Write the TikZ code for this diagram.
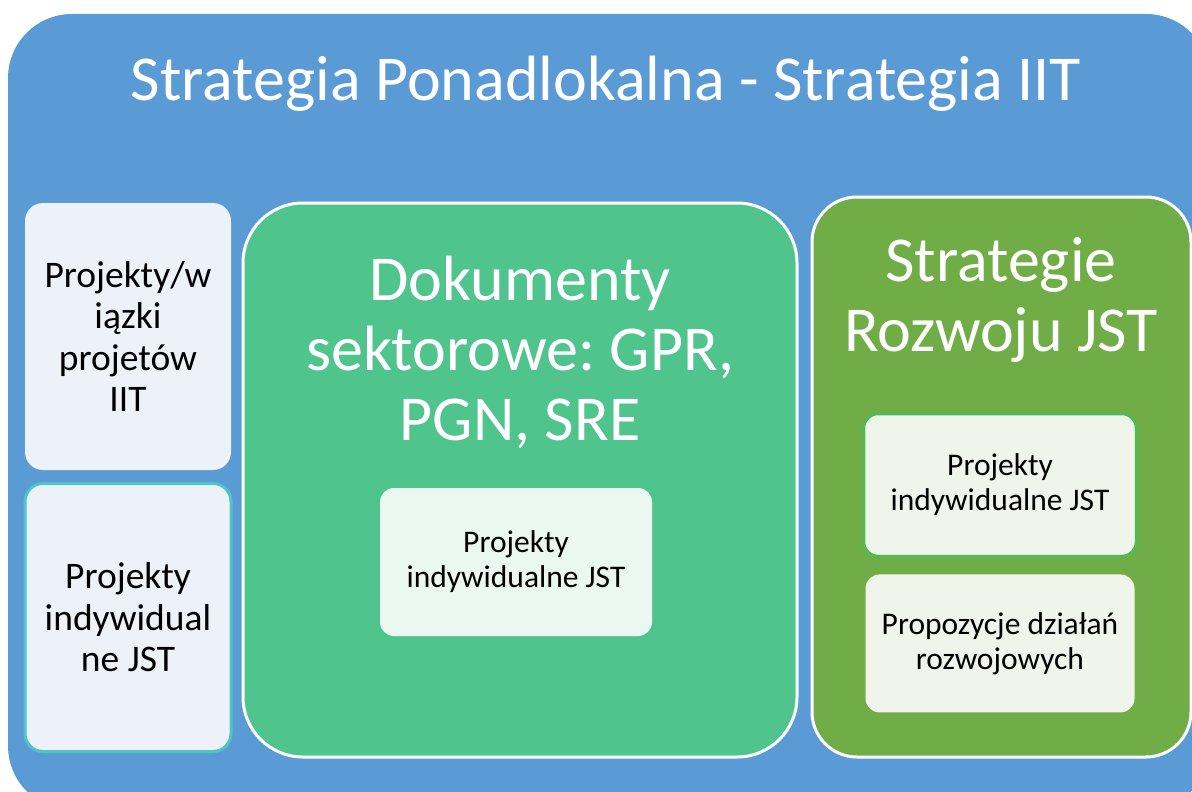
\documentclass[tikz,border=0pt]{standalone}
\usepackage{fontspec}
\setmainfont{Carlito}
\usepackage{tikz}
\usetikzlibrary{positioning}

\definecolor{outerblue}{HTML}{5B9BD5}
\definecolor{sectgreen}{HTML}{50C48D}
\definecolor{jstgreen}{HTML}{70AD47}
\definecolor{paleblue}{HTML}{EDF2F9}
\definecolor{palemint}{HTML}{EBF7F1}
\definecolor{palegreen}{HTML}{EFF5EA}
\definecolor{tealline}{HTML}{4CC6C6}
\definecolor{greenline}{HTML}{4CBD55}

\begin{document}
\frenchspacing
\begin{tikzpicture}
  [
    x = 1pt, y = -1pt,
    panel/.style = {rectangle, draw = white, line width = 3pt, inner sep = 0pt},
    heading/.style = {text = white, align = center, inner sep = 0pt,
                      font = \fontsize{64}{70}\selectfont},
    sidebox/.style = {rectangle, rounded corners = 18pt, fill = paleblue,
                      minimum width = 206pt, align = center, inner sep = 0pt,
                      font = \fontsize{37.5}{41.5}\selectfont},
    minibox/.style = {rectangle, rounded corners = 14pt, align = center,
                      inner sep = 0pt, font = \fontsize{31.5}{35}\selectfont},
  ]

  \useasboundingbox (0,0) rectangle (1192,792);
  \clip (0,0) rectangle (1192,792);

  % outer frame
  \fill[outerblue, rounded corners = 64pt] (8,14) rectangle (1210,810);
  \node[heading] (title) at (606,84) {Strategia Ponadlokalna - Strategia IIT};

  % left column
  \node[sidebox, minimum height = 267pt] (wiazki) at (128,336.5)
    {Projekty/w\\iązki\\projetów\\IIT};
  \node[sidebox, draw = tealline, line width = 3pt, minimum height = 268pt]
    (proj_left) at (128,617.5) {Projekty\\indywidual\\ne JST};

  % sector documents
  \node[panel, fill = sectgreen, rounded corners = 60pt,
        minimum width = 554pt, minimum height = 554pt] (sect) at (520,480) {};
  \node[heading] (sect_title) at (520,352) {Dokumenty\\sektorowe: GPR,\\PGN, SRE};
  \node[minibox, fill = palemint, minimum width = 272pt, minimum height = 148pt]
    (proj_mid) at (516,562) {Projekty\\indywidualne JST};

  % development strategies
  \node[panel, fill = jstgreen, rounded corners = 45pt,
        minimum width = 379pt, minimum height = 560pt] (jst) at (1001.5,477) {};
  \node[heading] (jst_title) at (1001,300) {Strategie\\Rozwoju JST};
  \node[minibox, fill = palegreen, draw = greenline, line width = 2.5pt,
        minimum width = 272pt, minimum height = 142pt]
    (proj_right) at (1000,485) {Projekty\\indywidualne JST};
  \node[minibox, fill = palegreen, minimum width = 269pt, minimum height = 138pt,
        below = 17pt of proj_right] (actions) {Propozycje działań\\rozwojowych};

\end{tikzpicture}
\end{document}
